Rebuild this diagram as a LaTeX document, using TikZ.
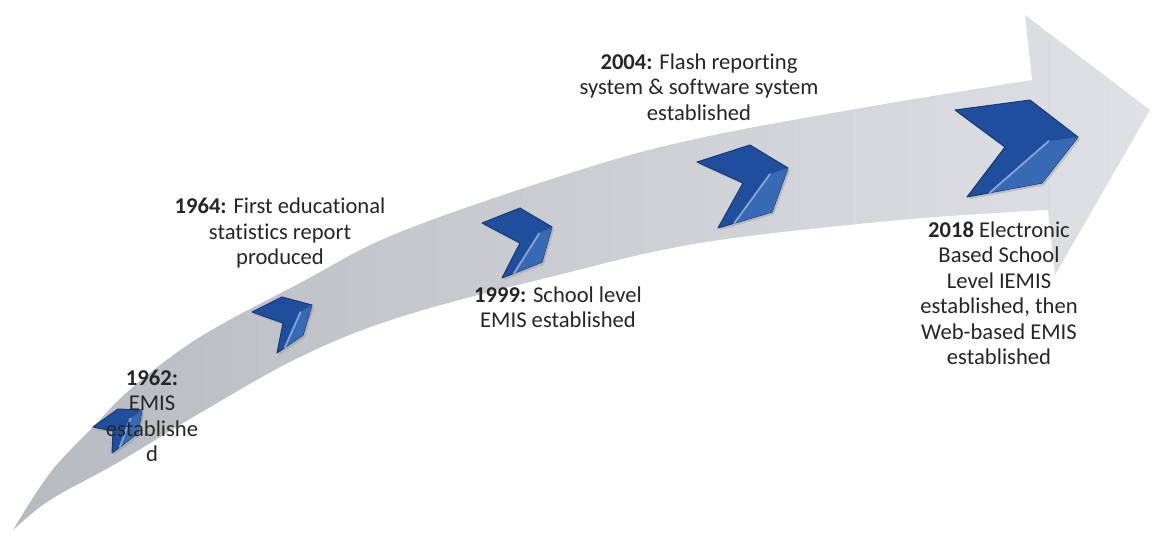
\documentclass[tikz,border=0pt]{standalone}
\usepackage{fontspec}
\setmainfont{Carlito}[Ligatures=NoCommon]
\usetikzlibrary{calc,shadows}

\definecolor{arrowdark}{HTML}{B7BABF}
\definecolor{arrowlight}{HTML}{DFE1E4}
\definecolor{chevblue}{HTML}{1F4F9C}
\definecolor{chevdark}{HTML}{153A78}
\definecolor{chevlight}{HTML}{3A6DB8}
\definecolor{textdark}{HTML}{262626}

\begin{document}
\begin{tikzpicture}
	% Styles
	[
	x=0.5pt, y=-0.5pt,
	chevron/.style={fill=chevblue, draw=chevdark, line width=0.5pt, line join=round,
		drop shadow={shadow xshift=1pt, shadow yshift=-1.2pt, opacity=0.3}},
	bevel/.style={fill=chevlight, opacity=0.9},
	streak/.style={draw=white!60!chevlight, line width=0.9pt, line cap=round, opacity=0.7},
	label/.style={align=center, inner sep=0pt, text=textdark,
		font=\fontsize{11.3}{12.75}\selectfont},
	]

	\useasboundingbox (0,0) rectangle (1152,532);

	% Arrow
	\shade[left color=arrowdark, right color=arrowlight]
		plot[smooth, tension=0.6] coordinates {(13,530) (50,473) (93,427) (133,387) (200,337)
			(300,283) (400,232) (580,170) (700,138) (867,107) (1032,80)}
		-- (1025,15) -- (1150,110) -- (1055,275) -- (1048,210)
		-- plot[smooth, tension=0.6] coordinates {(1048,210) (900,220) (700,243) (550,277)
			(400,317) (300,357) (200,413) (117,463) (50,500) (13,530)}
		-- cycle;

	% Chevrons
	\foreach \name/\l/\t/\r/\rr/\b/\n in {
		c1/{93,427}/{118,409}/{142,410}/{138,433}/{112,453}/{113,431},
		c2/{252,312}/{282,297}/{312,305}/{303,335}/{277,353}/{283,323},
		c3/{482,223}/{520,208}/{552,227}/{542,262}/{502,278}/{520,243},
		c4/{697,162}/{750,145}/{788,168}/{772,212}/{718,228}/{743,183},
		c5/{955,110}/{1030,100}/{1078,137}/{1042,183}/{967,197}/{1005,147}} {
		\coordinate (\name l) at (\l);
		\coordinate (\name t) at (\t);
		\coordinate (\name r) at (\r);
		\coordinate (\name rr) at (\rr);
		\coordinate (\name b) at (\b);
		\coordinate (\name n) at (\n);
		\path[chevron] (\name l) -- (\name t) -- (\name r) -- (\name rr) -- (\name b) -- (\name n) -- cycle;
		\path[bevel] ($(\name n)!0.6!(\name r)$) -- (\name r) -- (\name rr) -- ($(\name b)!0.3!(\name rr)$) -- cycle;
		\draw[streak] ($(\name n)!0.6!(\name r)$) -- ($(\name b)!0.3!(\name rr)$);
	}

	% Labels
	\node at (152,416)	(lab62)	[label] {\textbf{1962:}\\EMIS\\establishe\\d};
	\node at (280,233)	(lab64)	[label] {\textbf{1964:} First educational\\statistics report\\produced};
	\node at (558,307)	(lab99)	[label] {\textbf{1999:} School level\\EMIS established};
	\node at (699,87)	(lab04)	[label] {\textbf{2004:} Flash reporting\\system \& software system\\established};
	\node at (999,293)	(lab18)	[label] {\textbf{2018} Electronic\\Based School\\Level IEMIS\\established, then\\Web-based EMIS\\established};

\end{tikzpicture}
\end{document}
